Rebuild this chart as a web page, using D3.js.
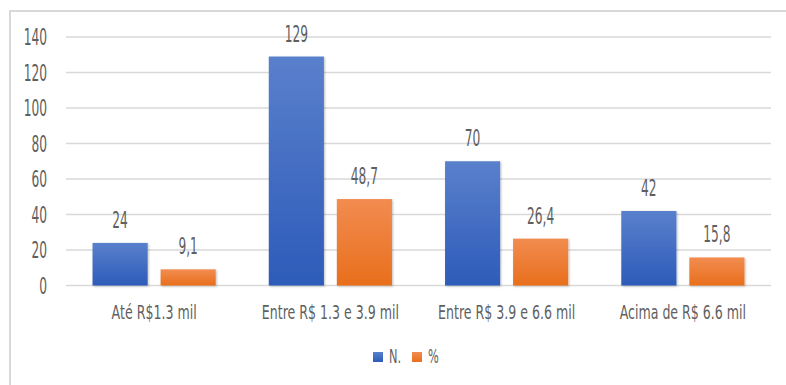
<!DOCTYPE html>
<html>
<head>
<meta charset="utf-8">
<script src="https://cdn.jsdelivr.net/npm/d3@7"></script>
<style>
  body { margin: 0; background: #fff; }
  svg text { font-family: "Liberation Sans Narrow", "DejaVu Sans Condensed", "Roboto", sans-serif; fill: #5f5f5f; }
</style>
</head>
<body>
<svg width="786" height="385"></svg>
<script>
    // data
    const categories = ["Até R$1.3 mil", "Entre R$ 1.3 e 3.9 mil", "Entre R$ 3.9 e 6.6 mil", "Acima de R$ 6.6 mil"];
    const series = ["N.", "%"];
    const countValues = [24, 129, 70, 42];
    const pctValues = [9.1, 48.7, 26.4, 15.8];
    const pctLabels = ["9,1", "48,7", "26,4", "15,8"];
    const yTicks = [0, 20, 40, 60, 80, 100, 120, 140];

    const svg = d3.select("svg"),
          margin = {top: 37, right: 15, bottom: 99.5, left: 66},
          width = +svg.attr("width") - margin.left - margin.right,
          height = +svg.attr("height") - margin.top - margin.bottom;

    const colors = {"N.": ["#5a80cc", "#2d5bb9"], "%": ["#f28c50", "#e86f1c"]};

    const defs = svg.append("defs");
    series.forEach((s, i) => {
      const grad = defs.append("linearGradient")
        .attr("id", "grad" + i)
        .attr("x1", 0).attr("y1", 0).attr("x2", 0).attr("y2", 1);
      grad.append("stop").attr("offset", "0%").attr("stop-color", colors[s][0]);
      grad.append("stop").attr("offset", "100%").attr("stop-color", colors[s][1]);
    });
    const shadow = defs.append("filter").attr("id", "shadow")
      .attr("x", "-20%").attr("y", "-20%").attr("width", "140%").attr("height", "140%");
    shadow.append("feDropShadow")
      .attr("dx", 1).attr("dy", 1).attr("stdDeviation", 1.2)
      .attr("flood-color", "#000").attr("flood-opacity", 0.25);

    // outer frame
    svg.append("rect")
      .attr("x", 10).attr("y", 11)
      .attr("width", 800).attr("height", 400)
      .attr("fill", "none")
      .attr("stroke", "#d9d9d9")
      .attr("stroke-width", 2);

    const g = svg.append("g").attr("transform", `translate(${margin.left},${margin.top})`);

    const rows = categories.map((c, i) => ({
      cat: c,
      vals: [
        {key: "N.", value: countValues[i], label: String(countValues[i])},
        {key: "%", value: pctValues[i], label: pctLabels[i]}
      ]
    }));

    const x0 = d3.scaleBand()
      .domain(categories)
      .range([0, width])
      .paddingInner(0)
      .paddingOuter(0);

    const x1 = d3.scaleBand()
      .domain(series)
      .range([0, x0.bandwidth()])
      .paddingInner(0.19)
      .paddingOuter(0.39);

    const y = d3.scaleLinear()
      .domain([0, 140])
      .range([height, 0]);

    // gridlines
    g.append("g")
      .selectAll("line")
      .data(yTicks)
      .enter().append("line")
      .attr("x1", 0)
      .attr("x2", width)
      .attr("y1", d => y(d))
      .attr("y2", d => y(d))
      .attr("stroke", "#d9d9d9")
      .attr("stroke-width", 1.5);

    // text helper: narrow tall glyphs like the original font
    function tallText(sel, px, py, sx) {
      sel.attr("transform", d => `translate(${px(d)},${py(d)}) scale(${sx || 0.85},1.45)`)
        .attr("text-anchor", "middle")
        .style("font-size", "16px");
    }

    // y tick labels
    g.append("g")
      .selectAll("text")
      .data(yTicks)
      .enter().append("text")
      .call(tallText, d => -19, d => y(d) + 8)
      .attr("text-anchor", "end")
      .text(d => d);

    // bars
    const groups = g.selectAll(".grp")
      .data(rows)
      .enter().append("g")
      .attr("class", "grp")
      .attr("transform", d => `translate(${x0(d.cat)},0)`);

    groups.selectAll("rect")
      .data(d => d.vals)
      .enter().append("rect")
      .attr("x", d => x1(d.key))
      .attr("y", d => y(d.value))
      .attr("width", x1.bandwidth())
      .attr("height", d => y(0) - y(d.value))
      .attr("fill", d => `url(#grad${series.indexOf(d.key)})`)
      .attr("filter", "url(#shadow)");

    groups.selectAll(".lbl")
      .data(d => d.vals)
      .enter().append("text")
      .attr("class", "lbl")
      .call(tallText, d => x1(d.key) + x1.bandwidth() / 2, d => y(d.value) - 15)
      .text(d => d.label);

    // category labels
    g.append("g")
      .selectAll("text")
      .data(categories)
      .enter().append("text")
      .call(tallText, d => x0(d) + x0.bandwidth() / 2, d => height + 33, 1)
      .style("font-size", "14px")
      .text(d => d);

    // legend
    const legend = svg.append("g").attr("transform", "translate(373,352)");
    const legendX = [0, 39];
    series.forEach((s, i) => {
      legend.append("rect")
        .attr("x", legendX[i]).attr("y", 0)
        .attr("width", 10).attr("height", 10)
        .attr("fill", `url(#grad${i})`);
      legend.append("text")
        .attr("transform", `translate(${legendX[i] + 16},${11}) scale(0.9,1.45)`)
        .style("font-size", "14px")
        .text(s);
    });
</script>
</body>
</html>
